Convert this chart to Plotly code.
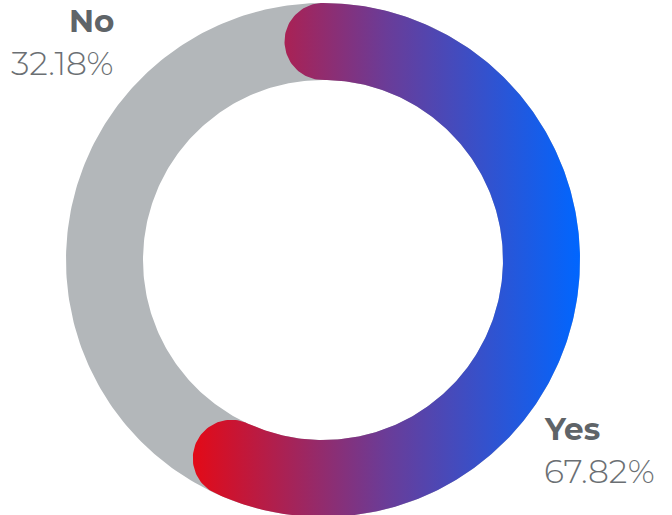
import numpy as np
import plotly.graph_objects as go

# Survey answers and their shares (percent)
labels = ["Yes", "No"]
shares = [67.82, 32.18]

# Canvas and ring geometry (pixels)
W, H = 672, 515
CX, CY = 323.0, 260.0
R_OUT, R_IN = 257.0, 180.0
FULL_SCALE_DEG = 302.0          # angular sweep that corresponds to 100 %

R_MID = (R_OUT + R_IN) / 2
HALF_W = (R_OUT - R_IN) / 2


def pt(theta, r):
    """Point on a circle, theta in radians clockwise from 12 o'clock (y grows downward)."""
    return CX + r * np.sin(theta), CY - r * np.cos(theta)


def ring():
    """Closed outline of the full track: outer circle, then inner circle backwards."""
    t = np.linspace(0, 2 * np.pi, 361)
    ox, oy = pt(t, R_OUT)
    ix, iy = pt(t[::-1], R_IN)
    return np.r_[ox, ix], np.r_[oy, iy]


def rounded_arc(share):
    """Outline of an arc band with round caps, its sweep set by the share."""
    a0 = 0.0
    a1 = np.radians(FULL_SCALE_DEG * share / 100.0)
    t = np.linspace(a0, a1, 300)
    ox, oy = pt(t, R_OUT)
    ix, iy = pt(t[::-1], R_IN)
    phi = np.linspace(0, np.pi, 60)
    # end cap
    u1 = np.array([np.sin(a1), -np.cos(a1)])
    f1 = np.array([np.cos(a1), np.sin(a1)])
    c1 = np.array(pt(a1, R_MID))
    e = c1[:, None] + HALF_W * (np.cos(phi) * u1[:, None] + np.sin(phi) * f1[:, None])
    # start cap
    u0 = np.array([np.sin(a0), -np.cos(a0)])
    f0 = np.array([np.cos(a0), np.sin(a0)])
    c0 = np.array(pt(a0, R_MID))
    s = c0[:, None] + HALF_W * (-np.cos(phi) * u0[:, None] - np.sin(phi) * f0[:, None])
    return np.r_[ox, e[0], ix, s[0]], np.r_[oy, e[1], iy, s[1]]


fig = go.Figure()

# grey track
gx, gy = ring()
fig.add_trace(go.Scatter(
    x=gx, y=gy, mode="lines", fill="toself", fillcolor="#b3b7ba",
    line=dict(width=0), hoverinfo="skip", showlegend=False,
))

# "Yes" share as a rounded gradient arc
ax, ay = rounded_arc(shares[0])
fig.add_trace(go.Scatter(
    x=ax, y=ay, mode="lines", fill="toself",
    fillgradient=dict(type="horizontal",
                      colorscale=[[0, "#e30a17"], [0.5, "#6a3c98"], [1, "#0066ff"]]),
    line=dict(width=0), hoverinfo="skip", showlegend=False,
))

FONT = "Montserrat, Inter, Lato, sans-serif"
anns = []
# label anchor points (pixels)
spots = {"Yes": (542, 443, "left"), "No": (116, 35, "right")}
for lab, val in zip(labels, shares):
    x, base, align = spots[lab]
    anns.append(dict(x=x, y=base + 7, text=f"<b>{lab}</b>", showarrow=False,
                     xanchor=align, yanchor="bottom",
                     font=dict(family=FONT, size=31, color="#5f6468", weight=800)))
    anns.append(dict(x=x, y=base + 50, text=f"{val:.2f}%", showarrow=False,
                     xanchor=align, yanchor="bottom",
                     font=dict(family=FONT, size=33, color="#6b6f73", weight=300)))

fig.update_layout(
    width=W, height=H,
    margin=dict(l=0, r=0, t=0, b=0),
    paper_bgcolor="white", plot_bgcolor="white",
    xaxis=dict(range=[0, W], visible=False, fixedrange=True),
    yaxis=dict(range=[H, 0], visible=False, fixedrange=True),
    annotations=anns,
    hovermode=False,
)

fig.write_html("out.html")
